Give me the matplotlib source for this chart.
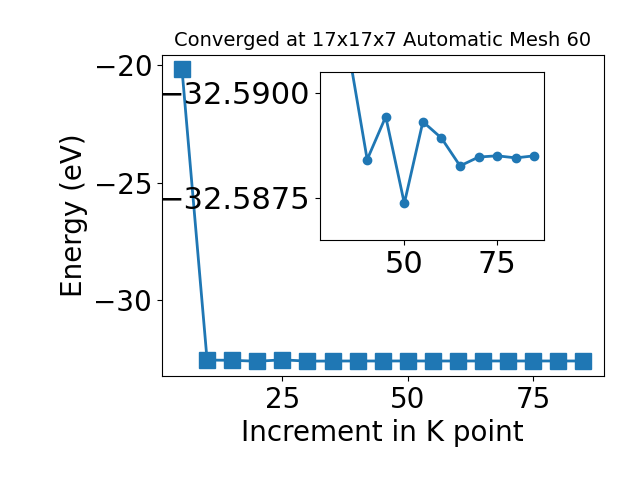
import matplotlib
matplotlib.use('Agg')
import matplotlib.pyplot as plt
from matplotlib.ticker import FuncFormatter

# k-point increment and total energy (eV)
kpoints = [5, 10, 15, 20, 25, 30, 35, 40, 45, 50, 55, 60, 65, 70, 75, 80, 85]
energy = [-20.17, -32.55, -32.56, -32.60, -32.54, -32.595, -32.5910,
          -32.58841, -32.58943, -32.58737, -32.58931, -32.58892, -32.58826,
          -32.58847, -32.58850, -32.58845, -32.58850]
zoom_start = 6  # inset shows points from 35 onward

fig = plt.figure(figsize=(6.4, 4.8), dpi=100)
ax = fig.add_axes([0.253, 0.217, 0.69, 0.669])
ax.plot(kpoints, energy, marker='s', markersize=11, linewidth=2)
ax.set_xticks([25, 50, 75])
ax.set_xlabel('Increment in K point', fontsize=20)
ax.set_ylabel('Energy (eV)', fontsize=20)
ax.set_title('Converged at 17x17x7 Automatic Mesh 60', fontsize=14)
ax.tick_params(labelsize=20)

inset = fig.add_axes([0.5, 0.5, 0.35, 0.35])
inset.plot(kpoints[zoom_start:], energy[zoom_start:], marker='o', markersize=6, linewidth=2)
inset.set_xlim(27.3, 87.6)
inset.set_ylim(-32.5865, -32.59049)
inset.set_xticks([50, 75])
inset.set_yticks([-32.5900, -32.5875])
inset.yaxis.set_major_formatter(FuncFormatter(lambda v, p: ('%.4f' % v).replace('-', '\u2212')))
inset.tick_params(labelsize=22)

fig.savefig('out.png')
